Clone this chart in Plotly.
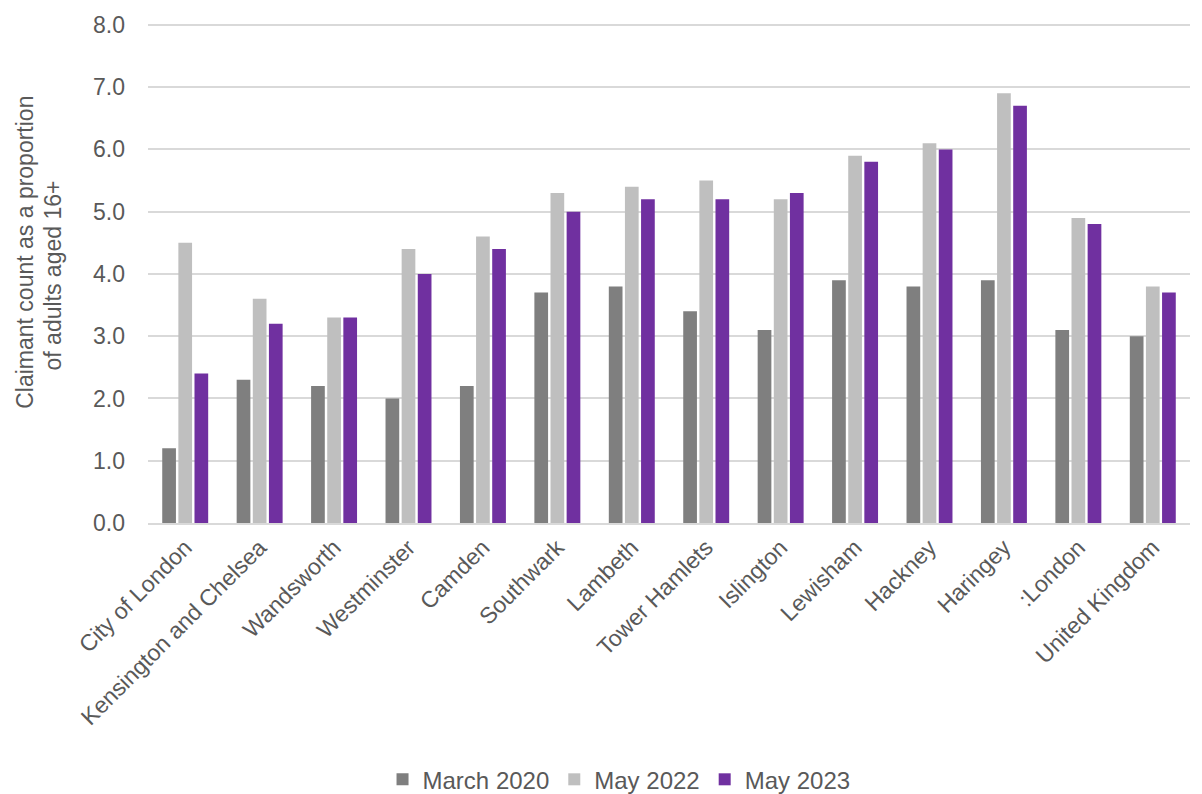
import plotly.graph_objects as go

areas = ["City of London", "Kensington and Chelsea", "Wandsworth", "Westminster", "Camden",
         "Southwark", "Lambeth", "Tower Hamlets", "Islington", "Lewisham", "Hackney",
         "Haringey", ":London", "United Kingdom"]
march_2020 = [1.2, 2.3, 2.2, 2.0, 2.2, 3.7, 3.8, 3.4, 3.1, 3.9, 3.8, 3.9, 3.1, 3.0]
may_2022 = [4.5, 3.6, 3.3, 4.4, 4.6, 5.3, 5.4, 5.5, 5.2, 5.9, 6.1, 6.9, 4.9, 3.8]
may_2023 = [2.4, 3.2, 3.3, 4.0, 4.4, 5.0, 5.2, 5.2, 5.3, 5.8, 6.0, 6.7, 4.8, 3.7]
y_ticks = [0, 1, 2, 3, 4, 5, 6, 7, 8]
y_title_lines = ["Claimant count as a proportion", "of adults aged 16+"]

FONT = "Liberation Sans, Arial, sans-serif"
TEXT = "#595959"
GRID = "#d9d9d9"

fig = go.Figure()
for name, vals, col in [("March 2020", march_2020, "#7f7f7f"),
                        ("May 2022", may_2022, "#bfbfbf"),
                        ("May 2023", may_2023, "#7030a0")]:
    fig.add_trace(go.Bar(name=name, x=areas, y=vals, marker_color=col, marker_line_width=0))

fig.update_layout(
    width=1202, height=794,
    margin=dict(l=148, r=12, t=16, b=271),
    paper_bgcolor="white", plot_bgcolor="white",
    barmode="group", bargap=0.35, bargroupgap=0.15,
    font=dict(family=FONT, color=TEXT, size=23),
    legend=dict(orientation="h", xref="container", yref="container",
                x=0.515, y=0.018, xanchor="center", yanchor="middle",
                font=dict(size=24, color=TEXT), traceorder="normal",
                itemwidth=30, tracegroupgap=0),
    showlegend=True,
)
fig.update_xaxes(tickangle=-45, tickfont=dict(size=23, color=TEXT),
                 showline=True, linecolor=GRID, linewidth=2, ticks="")
fig.update_yaxes(range=[0, 8.03], tickvals=y_ticks, tickformat=".1f",
                 tickfont=dict(size=23, color=TEXT), ticklabelstandoff=22,
                 showgrid=True, gridcolor=GRID, gridwidth=2, zeroline=False)

# two-line rotated axis title, each line placed on its own
for line, px_x, px_y in [(y_title_lines[0], 25, 249), (y_title_lines[1], 53, 272)]:
    fig.add_annotation(text=line, textangle=-90, showarrow=False,
                       xref="paper", yref="paper", x=0, y=(523 - px_y) / 507,
                       xshift=px_x - 148, xanchor="center", yanchor="middle",
                       font=dict(size=23, color=TEXT, family=FONT))

fig.write_html("out.html")
